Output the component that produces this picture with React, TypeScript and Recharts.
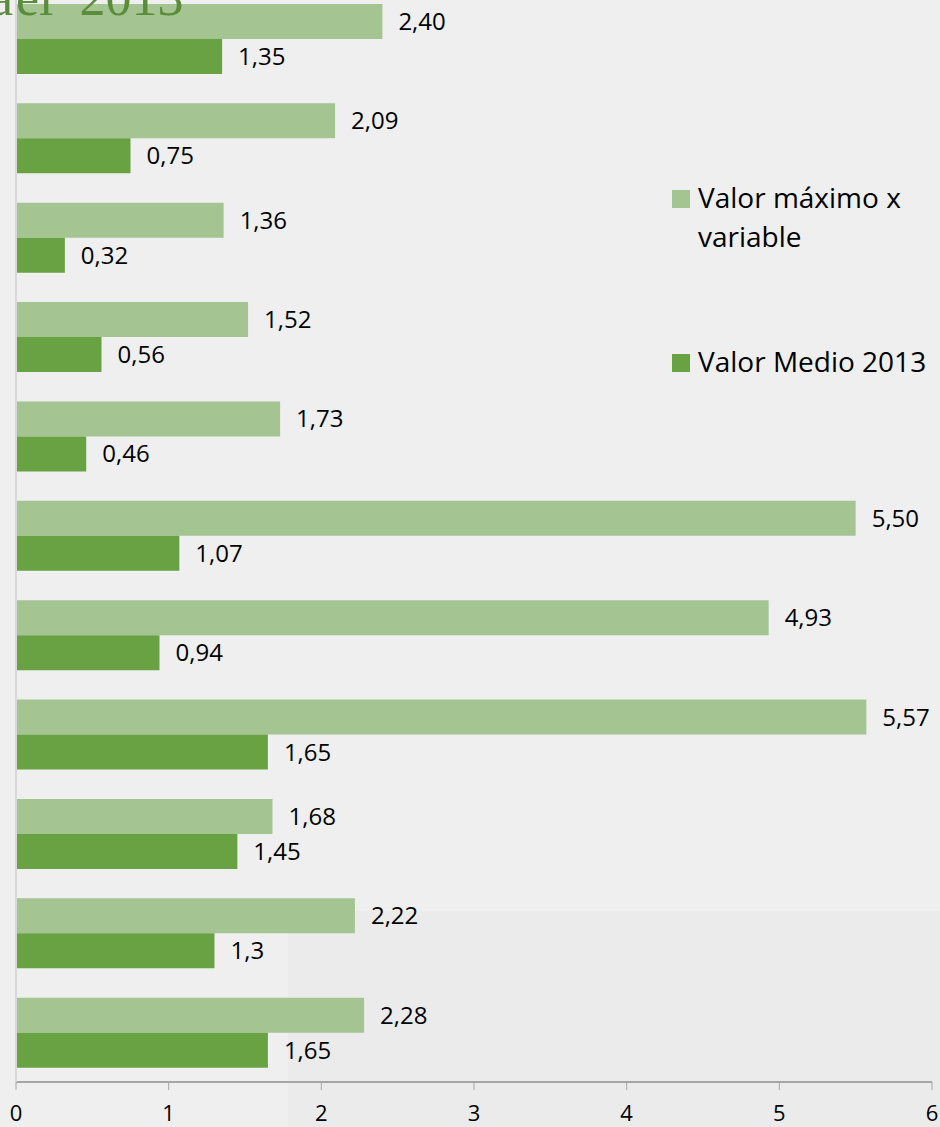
import { Bar, BarChart, LabelList, Legend, XAxis, YAxis } from "recharts";

// category names are cut off in the source image, only the bars remain
const categories = [
  "Variable 1",
  "Variable 2",
  "Variable 3",
  "Variable 4",
  "Variable 5",
  "Variable 6",
  "Variable 7",
  "Variable 8",
  "Variable 9",
  "Variable 10",
  "Variable 11",
];
const maxValues = [2.4, 2.09, 1.36, 1.52, 1.73, 5.5, 4.93, 5.57, 1.68, 2.22, 2.28];
const meanValues = [1.35, 0.75, 0.32, 0.56, 0.46, 1.07, 0.94, 1.65, 1.45, 1.3, 1.65];
const xTicks = [0, 1, 2, 3, 4, 5, 6];
const bandTicks = [0, 1, 2, 3, 4, 5, 6, 7, 8, 9, 10, 11];

const MAX_NAME = "Valor máximo x variable";
const MEAN_NAME = "Valor Medio 2013";
const LIGHT = "#a4c592";
const DARK = "#69a243";
const FONT = "'Open Sans', 'Noto Sans', sans-serif";

const data = categories.map((name, i) => ({
  name,
  max: maxValues[i],
  mean: meanValues[i],
}));

const fmtMax = (v: any) => Number(v).toFixed(2).replace(".", ",");
const fmtMean = (v: any) => String(v).replace(".", ",");

function Swatch({ color }: { color: string }) {
  return (
    <span
      style={{
        position: "absolute",
        left: 0,
        top: 12,
        width: 18,
        height: 18,
        background: color,
      }}
    />
  );
}

function LegendBox() {
  return (
    <div
      style={{
        fontFamily: FONT,
        fontSize: 28,
        lineHeight: "39px",
        color: "#000",
        width: 268,
      }}
    >
      <div style={{ position: "relative", paddingLeft: 26, width: 230 }}>
        <Swatch color={LIGHT} />
        {MAX_NAME}
      </div>
      <div style={{ position: "relative", paddingLeft: 26, marginTop: 86.7 }}>
        <Swatch color={DARK} />
        {MEAN_NAME}
      </div>
    </div>
  );
}

export default function App() {
  return (
    <div
      style={{
        position: "relative",
        width: 940,
        height: 1127,
        overflow: "hidden",
        background: "#efefef",
      }}
    >
      <style>{"body{margin:0}"}</style>
      <div
        style={{
          position: "absolute",
          left: 288,
          top: 911,
          width: 652,
          height: 216,
          background: "#ebebeb",
        }}
      />
      <div style={{ position: "absolute", left: 0, top: -11 }}>
        <BarChart
          width={940}
          height={1138}
          data={data}
          layout="vertical"
          margin={{ top: 0, right: 8, bottom: 0, left: 0 }}
          barGap={0}
        >
          <XAxis
            type="number"
            domain={[0, 6]}
            ticks={xTicks}
            height={45}
            axisLine={{ stroke: "#a6a6a6", strokeWidth: 2 }}
            tickLine={{ stroke: "#a6a6a6" }}
            tickSize={8}
            tickMargin={15}
            tick={{ fill: "#000", fontSize: 22, fontFamily: FONT }}
          />
          <YAxis yAxisId="cat" type="category" dataKey="name" hide />
          <YAxis
            yAxisId="band"
            type="number"
            domain={[0, 11]}
            ticks={bandTicks}
            allowDataOverflow
            width={16}
            axisLine={{ stroke: "#d9d9d9", strokeWidth: 2 }}
            tickLine={{ stroke: "#d9d9d9", strokeWidth: 2 }}
            tickSize={6}
            tick={false}
          />
          <Legend
            layout="vertical"
            align="center"
            verticalAlign="middle"
            wrapperStyle={{ left: 672, top: 188.6, width: 268 }}
            content={() => <LegendBox />}
          />
          <Bar
            yAxisId="cat"
            dataKey="max"
            name={MAX_NAME}
            fill={LIGHT}
            barSize={35}
            isAnimationActive={false}
          >
            <LabelList
              dataKey="max"
              position="right"
              offset={16}
              formatter={fmtMax}
              style={{ fill: "#000", fontSize: 24, fontFamily: FONT }}
            />
          </Bar>
          <Bar
            yAxisId="cat"
            dataKey="mean"
            name={MEAN_NAME}
            fill={DARK}
            barSize={35}
            isAnimationActive={false}
          >
            <LabelList
              dataKey="mean"
              position="right"
              offset={16}
              formatter={fmtMean}
              style={{ fill: "#000", fontSize: 24, fontFamily: FONT }}
            />
          </Bar>
        </BarChart>
      </div>
      <div
        style={{
          position: "absolute",
          left: -10,
          top: -28.5,
          fontFamily: "'Liberation Serif', serif",
          fontSize: 52,
          lineHeight: "52px",
          color: "#5b8c3b",
          whiteSpace: "pre",
          zIndex: 2,
        }}
      >
        a
      </div>
      <div
        style={{
          position: "absolute",
          left: 16,
          top: -28.5,
          fontFamily: "'Liberation Serif', serif",
          fontSize: 52,
          lineHeight: "52px",
          color: "#5b8c3b",
          whiteSpace: "pre",
          zIndex: 2,
        }}
      >
        {"el  2013"}
      </div>
    </div>
  );
}
